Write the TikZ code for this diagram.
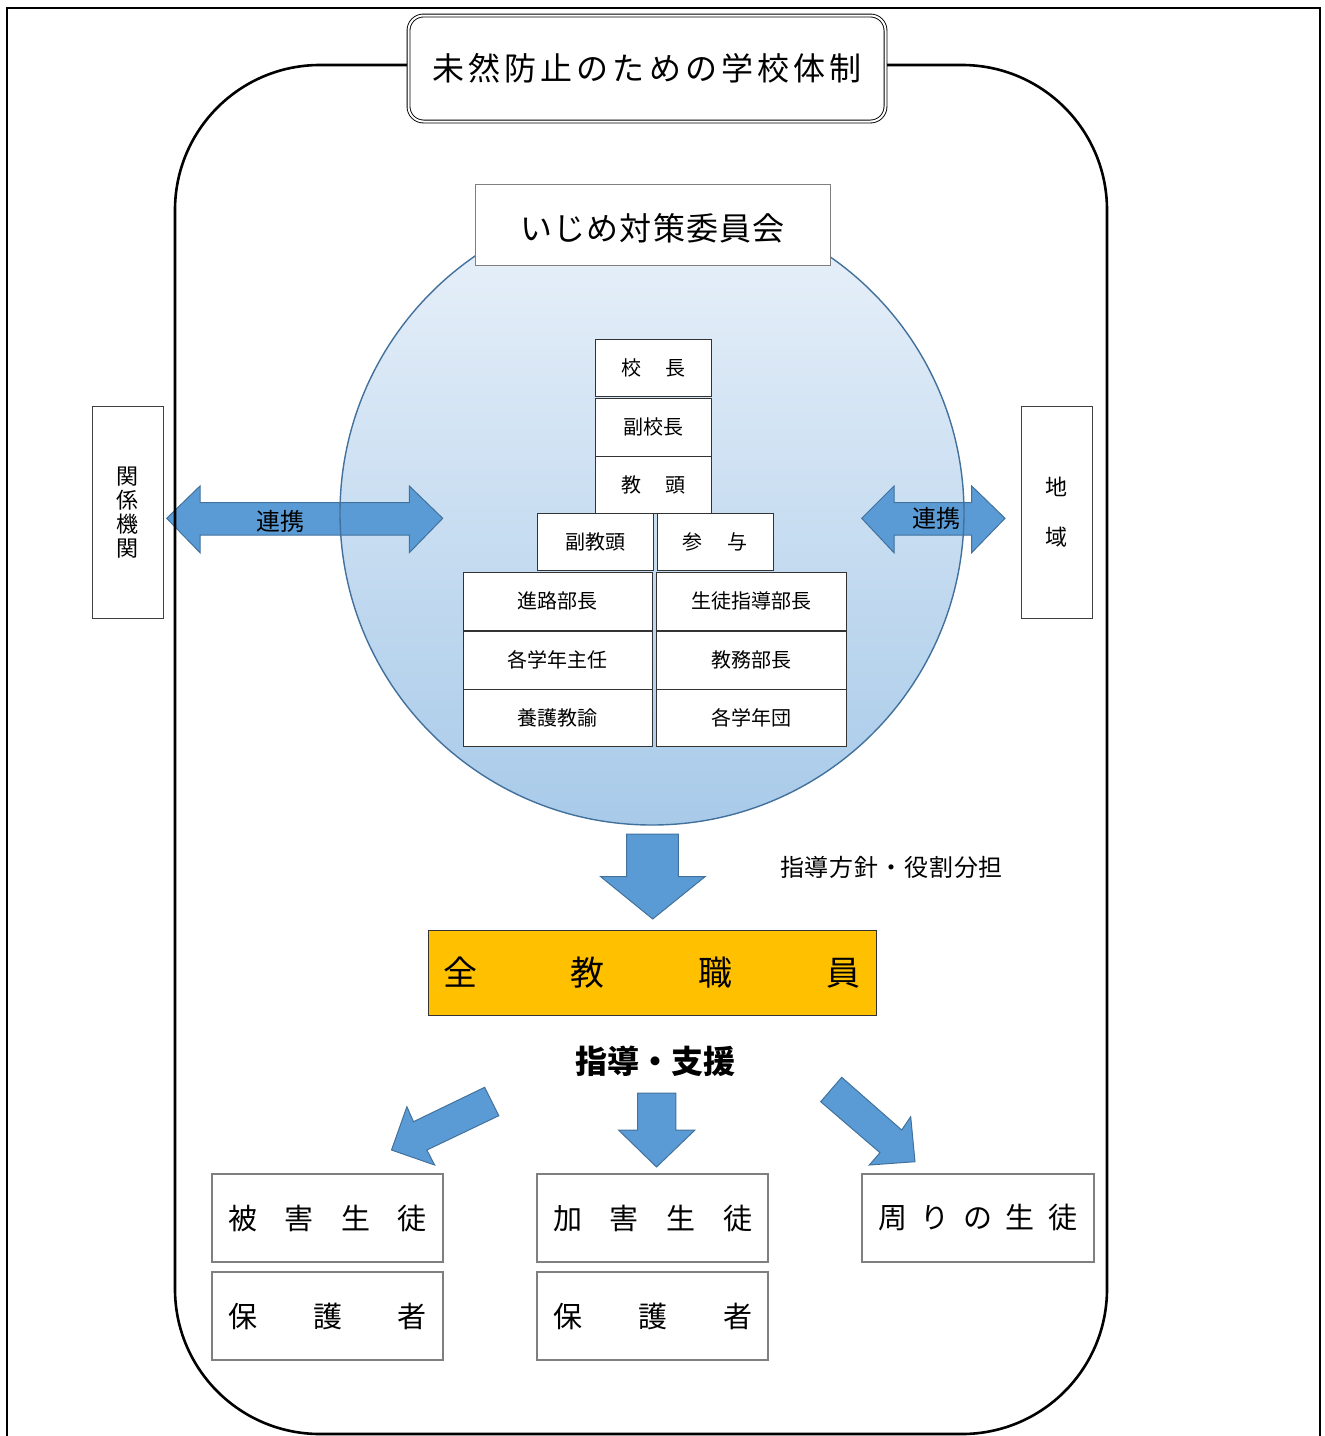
\documentclass[tikz,border=0pt]{standalone}
\usepackage{fontspec}
\newfontfamily\jp{Noto Sans CJK JP}
\definecolor{arrowblue}{HTML}{5B9BD5}
\definecolor{arrowedge}{HTML}{41719C}
\definecolor{goldfill}{HTML}{FFC000}
\definecolor{circtop}{HTML}{EBF2FA}
\definecolor{circbot}{HTML}{A8CAE9}
\definecolor{boxgray}{HTML}{7F7F7F}
\newcommand{\fs}[1]{\fontsize{#1}{#1}\selectfont}
\tikzset{
  stackbox/.style={draw=black!80, line width=0.9pt, fill=white, inner sep=0pt, font=\jp\fs{20}},
  sidebox/.style={draw=black!75, line width=0.9pt, fill=white, inner sep=0pt, minimum width=71pt, minimum height=212pt, align=center},
  bottombox/.style={draw=boxgray, line width=2.2pt, fill=white, inner sep=0pt, minimum height=88pt, font=\jp\fs{29}},
  blockarrow/.style={fill=arrowblue, draw=arrowedge, line width=1pt, line join=miter},
  label/.style={inner sep=0pt, font=\jp}
}
\begin{document}
\begin{tikzpicture}[x=1pt,y=-1pt]
\useasboundingbox (0,0) rectangle (1325,1436);
% outer frame (open at the bottom)
\draw[line width=1.8pt] (7,1440) -- (7,8) -- (1320,8) -- (1320,1440);
% circle fill
\shade[top color=circtop, bottom color=circbot] (652,513) circle[radius=312];
% side double arrows
\draw[blockarrow] (166.7,518.3) -- (200,486) -- (200,502.7) -- (409.3,502.7) -- (409.3,486) -- (442.7,518.3) -- (409.3,552.7) -- (409.3,535) -- (200,535) -- (200,552.7) -- cycle;
\draw[blockarrow] (861.7,518.3) -- (894,486) -- (894,502.7) -- (971.7,502.7) -- (971.7,486) -- (1005,518.3) -- (971.7,552.7) -- (971.7,535) -- (894,535) -- (894,552.7) -- cycle;
% circle border
\draw[arrowedge, line width=1.4pt] (652,513) circle[radius=312];
% big rounded frame
\draw[line width=2.6pt, rounded corners=145pt] (175,1434) rectangle (1107,65);
% title
\node[draw, double, double distance=2pt, line width=0.9pt, rounded corners=15pt, fill=white, minimum width=477pt, minimum height=106pt, inner sep=0pt, font=\jp\fs{32}] (title) at (647,68.5) {\makebox[430pt]{未\hfill 然\hfill 防\hfill 止\hfill の\hfill た\hfill め\hfill の\hfill 学\hfill 校\hfill 体\hfill 制}};
% committee
\node[draw=boxgray, line width=0.9pt, fill=white, minimum width=355pt, minimum height=81pt, inner sep=0pt, text height=36pt, text depth=4pt, font=\jp\fs{32}] (iinkai) at (652.5,224.5) {\makebox[265pt]{い\hfill じ\hfill め\hfill 対\hfill 策\hfill 委\hfill 員\hfill 会}};
% stack
\node[stackbox, minimum width=116pt, minimum height=57pt] (kocho) at (653,367.5) {\makebox[64pt]{校\hfill 長}};
\node[stackbox, minimum width=116pt, minimum height=58pt] (fukukocho) at (653,427) {副校長};
\node[stackbox, minimum width=116pt, minimum height=57pt] (kyoto) at (653,484.5) {\makebox[64pt]{教\hfill 頭}};
\node[stackbox, minimum width=116pt, minimum height=57pt] (fukukyoto) at (595,541.5) {副教頭};
\node[stackbox, minimum width=116pt, minimum height=57pt] (sanyo) at (715,541.5) {\makebox[65pt]{参\hfill 与}};
\node[stackbox, minimum width=189pt, minimum height=58pt] (shinro) at (557.5,601) {進路部長};
\node[stackbox, minimum width=190pt, minimum height=58pt] (seito) at (751,601) {生徒指導部長};
\node[stackbox, minimum width=189pt, minimum height=58pt] (gakunen) at (557.5,660) {各学年主任};
\node[stackbox, minimum width=190pt, minimum height=58pt] (kyomu) at (751,660) {教務部長};
\node[stackbox, minimum width=189pt, minimum height=57pt] (yogo) at (557.5,717.5) {養護教諭};
\node[stackbox, minimum width=190pt, minimum height=57pt] (gakunendan) at (751,717.5) {各学年団};
% side boxes
\node[sidebox, font=\jp\fontsize{22}{24}\selectfont] (kankei) at (127.5,512.5) {関\\係\\機\\関};
\node[sidebox, font=\jp\fontsize{22}{50}\selectfont] (chiiki) at (1056.5,512.5) {地\\域};
\node[label, font=\jp\fs{24}] (renkei1) at (280.7,521) {連携};
\node[label, font=\jp\fs{24}] (renkei2) at (936.7,518) {連携};
% down arrow
\draw[blockarrow] (626.7,834) -- (678.3,834) -- (678.3,876.7) -- (705,876.7) -- (652.7,919) -- (600.7,876.7) -- (626.7,876.7) -- cycle;
\node[label, font=\jp\fs{24}] (hoshin) at (891.5,867) {\makebox[223pt]{指\hfill 導\hfill 方\hfill 針\hfill ・\hfill 役\hfill 割\hfill 分\hfill 担}};
% all staff
\node[draw=black!80, line width=1pt, fill=goldfill, minimum width=448pt, minimum height=85pt, inner sep=0pt, font=\jp\fs{34}] (zenin) at (652,972.5) {\makebox[418pt]{全\hfill 教\hfill 職\hfill 員}};
\node[label, font=\jp\bfseries\fs{32}] (shido) at (655,1061) {指導・支援};
% three arrows
\draw[blockarrow] (484.6,1087.3) -- (498.8,1115.7) -- (426.9,1150) -- (434.6,1165) -- (391.5,1150) -- (406.9,1106.7) -- (413.5,1121.7) -- cycle;
\draw[blockarrow] (637.7,1093) -- (675.8,1093) -- (675.8,1130) -- (695,1130) -- (656.5,1167) -- (618.5,1130) -- (637.7,1130) -- cycle;
\draw[blockarrow] (841.7,1077.3) -- (901.7,1130) -- (910.7,1116.7) -- (915,1161.7) -- (869.3,1165) -- (880,1152.7) -- (820.7,1101.7) -- cycle;
% bottom boxes
\node[bottombox, minimum width=231pt] (higai) at (327.5,1218) {\makebox[199pt]{被\hfill 害\hfill 生\hfill 徒}};
\node[bottombox, minimum width=231pt] (hogo1) at (327.5,1316) {\makebox[199pt]{保\hfill 護\hfill 者}};
\node[bottombox, minimum width=231pt] (kagai) at (652.5,1218) {\makebox[199pt]{加\hfill 害\hfill 生\hfill 徒}};
\node[bottombox, minimum width=231pt] (hogo2) at (652.5,1316) {\makebox[199pt]{保\hfill 護\hfill 者}};
\node[bottombox, minimum width=232pt] (mawari) at (978,1218) {\makebox[199pt]{周\hfill り\hfill の\hfill 生\hfill 徒}};
\end{tikzpicture}
\end{document}
